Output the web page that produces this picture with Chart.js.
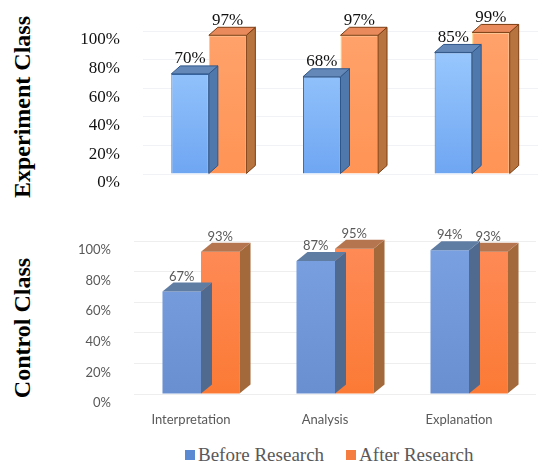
<!DOCTYPE html>
<html>
<head>
<meta charset="utf-8">
<script src="https://cdn.jsdelivr.net/npm/chart.js@4/dist/chart.umd.min.js"></script>
<style>
    body { margin: 0; width: 552px; height: 464px; background: #fff; overflow: hidden; position: relative; }
    canvas { position: absolute; left: 0; }
    #experimentChart { top: 0; }
    #controlChart { top: 200px; }
    .side-title {
        position: absolute; left: 22px; white-space: nowrap;
        font: bold 24px "Liberation Serif", "Times New Roman", serif; color: #000;
        transform: translate(-50%, -50%) rotate(-90deg);
    }
    #legend {
        position: absolute; left: 185px; top: 444px; display: flex; gap: 22px;
        font: 19px "Liberation Serif", "Times New Roman", serif; color: #595959; line-height: 22px;
    }
    #legend .item { display: flex; align-items: center; }
    #legend .box { width: 10px; height: 10px; margin-right: 3px; }
</style>
</head>
<body>
<div class="side-title" style="top: 107px;">Experiment Class</div>
<div class="side-title" style="top: 328px;">Control Class</div>
<canvas id="experimentChart" width="552" height="200"></canvas>
<canvas id="controlChart" width="552" height="240"></canvas>
<div id="legend"></div>
<script>
const categories = ['Interpretation', 'Analysis', 'Explanation'];
const seriesNames = ['Before Research', 'After Research'];
const experimentBefore = [70, 68, 85];
const experimentAfter = [97, 97, 99];
const controlBefore = [67, 87, 94];
const controlAfter = [93, 95, 93];
const percentTicks = [0, 20, 40, 60, 80, 100];
const legendColors = ['#5b8ad3', '#f47d3f'];

const serifFamily = 'Liberation Serif, Times New Roman, serif';
const sansFamily = 'Lato, sans-serif';

// side and top faces of each bar, drawn right after its dataset so the next series covers them
const bar3d = {
    id: 'bar3d',
    afterDatasetDraw: function (chart, args, opts) {
        const ds = chart.data.datasets[args.index];
        const ctx = chart.ctx;
        const dx = opts.dx;
        const dy = opts.dy;

        ctx.save();
        args.meta.data.forEach(function (bar) {
            const p = bar.getProps(['x', 'y', 'base', 'width'], true);
            const x0 = p.x - p.width / 2;
            const x1 = p.x + p.width / 2;

            ctx.beginPath();
            ctx.moveTo(x1, p.y);
            ctx.lineTo(x1 + dx, p.y - dy);
            ctx.lineTo(x1 + dx, p.base - dy);
            ctx.lineTo(x1, p.base);
            ctx.closePath();
            ctx.fillStyle = ds.sideColor;
            ctx.fill();
            if (ds.edgeColor) {
                ctx.strokeStyle = ds.edgeColor;
                ctx.lineWidth = 1;
                ctx.stroke();
            }

            ctx.beginPath();
            ctx.moveTo(x0, p.y);
            ctx.lineTo(x1, p.y);
            ctx.lineTo(x1 + dx, p.y - dy);
            ctx.lineTo(x0 + dx, p.y - dy);
            ctx.closePath();
            ctx.fillStyle = ds.topColor;
            ctx.fill();
            if (ds.edgeColor) {
                ctx.strokeStyle = ds.edgeColor;
                ctx.stroke();
            }
        });
        ctx.restore();
    }
};

const valueLabels = {
    id: 'valueLabels',
    afterDatasetsDraw: function (chart, args, opts) {
        const ctx = chart.ctx;
        ctx.save();
        ctx.font = opts.labelFont;
        ctx.fillStyle = opts.labelColor;
        ctx.textAlign = 'center';
        ctx.textBaseline = 'middle';
        chart.data.datasets.forEach(function (ds, i) {
            chart.getDatasetMeta(i).data.forEach(function (bar, j) {
                ctx.fillText(ds.data[j] + '%', bar.x, bar.y - opts.offset);
            });
        });
        ctx.restore();
    }
};

function verticalGradient(stops, fallback) {
    return function (context) {
        const area = context.chart.chartArea;
        if (!area) {
            return fallback;
        }
        const g = context.chart.ctx.createLinearGradient(0, area.top, 0, area.bottom);
        g.addColorStop(0, stops[0]);
        g.addColorStop(1, stops[1]);
        return g;
    };
}

function percentAxis(opts) {
    return {
        min: 0,
        max: 100,
        afterBuildTicks: function (scale) {
            scale.ticks = percentTicks.map(function (v) { return { value: v }; });
        },
        afterFit: function (scale) {
            scale.width = opts.width;
            scale.paddingTop = 0;
            scale.paddingBottom = 0;
        },
        border: { display: false },
        grid: { color: opts.gridColor, drawTicks: false },
        ticks: {
            padding: 23,
            labelOffset: 9,
            color: opts.color,
            font: opts.font,
            callback: function (value) {
                return value + '%';
            }
        }
    };
}

new Chart(document.getElementById('experimentChart'), {
    type: 'bar',
    data: {
        labels: categories,
        datasets: [{
            label: seriesNames[0],
            data: experimentBefore,
            backgroundColor: verticalGradient(['#9fcdff', '#6fa6f2'], '#86bbfb'),
            borderColor: '#3b6cab',
            borderWidth: 1,
            topColor: '#6489b8',
            sideColor: '#4f79ad',
            edgeColor: '#2f5688'
        }, {
            label: seriesNames[1],
            data: experimentAfter,
            backgroundColor: verticalGradient(['#ffa26b', '#ff9455'], '#ff9a60'),
            borderColor: '#f6cf78',
            borderWidth: 1,
            topColor: '#e88a5c',
            sideColor: '#b7743f',
            edgeColor: '#7b3d12'
        }]
    },
    options: {
        responsive: false,
        animation: false,
        layout: { padding: { left: 60, right: 14, top: 31, bottom: 26 } },
        datasets: { bar: { barPercentage: 1, categoryPercentage: 0.57 } },
        plugins: {
            legend: { display: false },
            tooltip: { enabled: false },
            bar3d: { dx: 9, dy: 8 },
            valueLabels: { labelFont: '17px ' + serifFamily, labelColor: '#111', offset: 15 }
        },
        scales: {
            x: { display: false },
            y: percentAxis({
                width: 83,
                gridColor: '#f1f2f6',
                color: '#111',
                font: { family: serifFamily, size: 17 }
            })
        }
    },
    plugins: [bar3d, valueLabels]
});

new Chart(document.getElementById('controlChart'), {
    type: 'bar',
    data: {
        labels: categories,
        datasets: [{
            label: seriesNames[0],
            data: controlBefore,
            backgroundColor: verticalGradient(['#7aa1e2', '#6a8fd1'], '#7299db'),
            borderWidth: 0,
            topColor: '#5f7ca3',
            sideColor: '#50698f'
        }, {
            label: seriesNames[1],
            data: controlAfter,
            backgroundColor: verticalGradient(['#ff8b58', '#fb7a35'], '#fd8246'),
            borderWidth: 0,
            topColor: '#b5764f',
            sideColor: '#a3693b'
        }]
    },
    options: {
        responsive: false,
        animation: false,
        layout: { padding: { left: 60, right: 16, top: 41, bottom: 6 } },
        datasets: { bar: { barPercentage: 1, categoryPercentage: 0.575 } },
        plugins: {
            legend: { display: false },
            tooltip: { enabled: false },
            bar3d: { dx: 11, dy: 9 },
            valueLabels: { labelFont: '13px ' + sansFamily, labelColor: '#595959', offset: 15 }
        },
        scales: {
            x: {
                afterFit: function (scale) {
                    scale.height = 40;
                },
                border: { display: false },
                grid: { display: false, drawTicks: false },
                ticks: {
                    padding: 18,
                    labelOffset: -10,
                    color: '#595959',
                    font: { family: sansFamily, size: 13 }
                }
            },
            y: percentAxis({
                width: 74,
                gridColor: '#eeeeee',
                color: '#595959',
                font: { family: sansFamily, size: 13 }
            })
        }
    },
    plugins: [bar3d, valueLabels]
});

// legend shared by both panels
const legendBox = document.getElementById('legend');
seriesNames.forEach(function (name, i) {
    const item = document.createElement('div');
    item.className = 'item';
    const box = document.createElement('span');
    box.className = 'box';
    box.style.background = legendColors[i];
    const text = document.createElement('span');
    text.textContent = name;
    item.appendChild(box);
    item.appendChild(text);
    legendBox.appendChild(item);
});
</script>
</body>
</html>
